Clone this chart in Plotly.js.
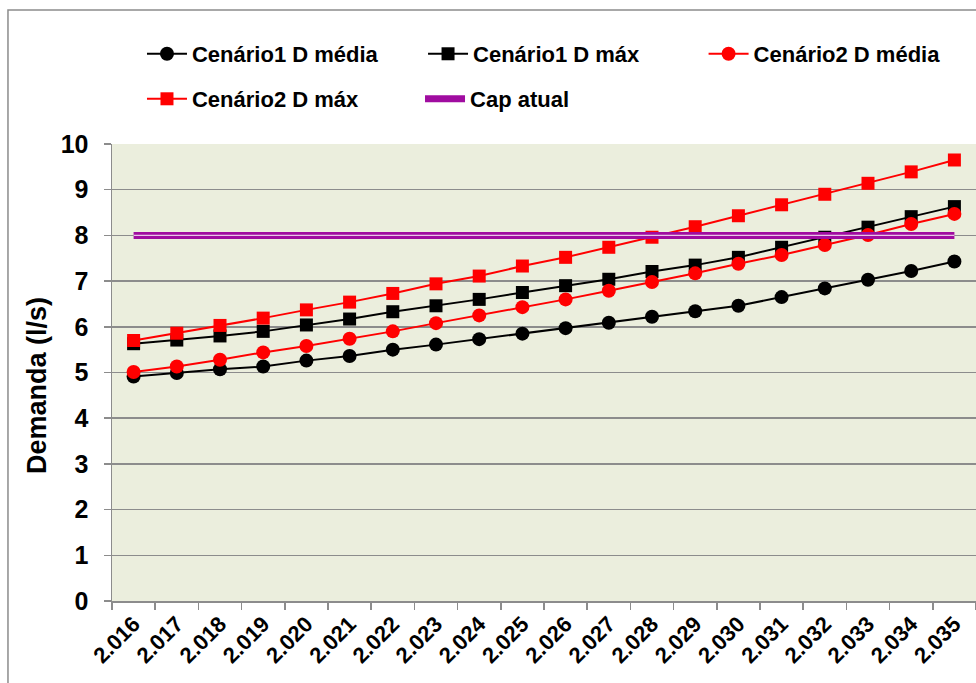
<!DOCTYPE html>
<html>
<head>
<meta charset="utf-8">
<script src="https://cdn.plot.ly/plotly-3.0.1.min.js"></script>
<style>html,body{margin:0;padding:0;background:#fff;}#chart{width:976px;height:683px;}</style>
</head>
<body>
<div id="chart"></div>
<script>
const years = ["2.016","2.017","2.018","2.019","2.020","2.021","2.022","2.023","2.024","2.025","2.026","2.027","2.028","2.029","2.030","2.031","2.032","2.033","2.034","2.035"];
const c1Media = [4.91,4.99,5.07,5.13,5.26,5.36,5.50,5.61,5.73,5.85,5.97,6.09,6.22,6.34,6.46,6.65,6.84,7.03,7.22,7.43];
const c1Max   = [5.63,5.71,5.80,5.90,6.04,6.17,6.33,6.46,6.60,6.75,6.90,7.04,7.21,7.35,7.52,7.74,7.96,8.18,8.41,8.63];
const c2Media = [5.01,5.13,5.28,5.44,5.58,5.74,5.90,6.08,6.25,6.43,6.60,6.79,6.98,7.17,7.38,7.57,7.79,8.01,8.25,8.47];
const c2Max   = [5.70,5.86,6.03,6.19,6.37,6.54,6.73,6.94,7.11,7.33,7.52,7.74,7.96,8.19,8.43,8.67,8.90,9.14,9.39,9.65];
const capAtual = [8,8,8,8,8,8,8,8,8,8,8,8,8,8,8,8,8,8,8,8];
const yTicks = [0,1,2,3,4,5,6,7,8,9,10];
const yTitle = "Demanda (l/s)";

const FONT = "'Liberation Sans', Arial, sans-serif";

const traces = [
  {x: years, y: c1Media, name: "Cenário1 D média", type: "scatter", mode: "lines+markers", legend: "legend",
   line: {color: "#000000", width: 2}, marker: {symbol: "circle", size: 14, color: "#000000"}},
  {x: years, y: c1Max, name: "Cenário1 D máx", type: "scatter", mode: "lines+markers", legend: "legend2",
   line: {color: "#000000", width: 2}, marker: {symbol: "square", size: 13, color: "#000000"}},
  {x: years, y: c2Media, name: "Cenário2 D média", type: "scatter", mode: "lines+markers", legend: "legend3",
   line: {color: "#ff0000", width: 2}, marker: {symbol: "circle", size: 14, color: "#ff0000"}},
  {x: years, y: c2Max, name: "Cenário2 D máx", type: "scatter", mode: "lines+markers", legend: "legend4",
   line: {color: "#ff0000", width: 2}, marker: {symbol: "square", size: 13, color: "#ff0000"}},
  {x: years, y: capAtual, name: "Cap atual", type: "scatter", mode: "lines", legend: "legend5",
   line: {color: "#a00ca0", width: 7}},
  {x: years, y: capAtual, name: "Cap atual", type: "scatter", mode: "lines", showlegend: false,
   line: {color: "#e8c4e8", width: 1.2}, hoverinfo: "skip"}
];

const legendFont = {family: FONT, size: 22, color: "#000000", weight: "bold"};
function leg(x, y) {
  return {orientation: "h", xanchor: "left", yanchor: "middle", x: x, y: y,
          font: legendFont, itemwidth: 40, bgcolor: "rgba(0,0,0,0)", borderwidth: 0};
}

const layout = {
  width: 976, height: 683,
  margin: {l: 112, r: 0, t: 144, b: 82, pad: 0},
  paper_bgcolor: "#ffffff",
  plot_bgcolor: "#ebeedd",
  font: {family: FONT, color: "#000000", weight: "bold"},
  showlegend: true,
  legend:  leg(0.0347, 1.197),
  legend2: leg(0.3600, 1.197),
  legend3: leg(0.6847, 1.197),
  legend4: leg(0.0347, 1.0985),
  legend5: leg(0.3565, 1.0985),
  xaxis: {
    type: "category", tickangle: -45, tickson: "boundaries",
    ticks: "outside", ticklen: 7, tickcolor: "#8c8c8c", tickwidth: 1.5,
    showline: true, linecolor: "#8c8c8c", linewidth: 1.5,
    showgrid: false, zeroline: false,
    tickfont: {family: FONT, size: 22, color: "#000000", weight: "bold"},
    range: [-0.5, 19.5]
  },
  yaxis: {
    range: [0, 10], tickvals: yTicks, ticktext: yTicks.map(String),
    ticks: "outside", ticklen: 7, tickcolor: "#8c8c8c", tickwidth: 1.5,
    showline: true, linecolor: "#8c8c8c", linewidth: 1.5,
    showgrid: true, gridcolor: "#8c8c8c", gridwidth: 1.5, zeroline: false,
    tickfont: {family: FONT, size: 25, color: "#000000", weight: "bold"},
    ticklabelstandoff: 10
  },
  annotations: [
    {text: yTitle, xref: "paper", yref: "paper", x: -0.0868, y: 0.4705,
     xanchor: "center", yanchor: "middle", textangle: -90, showarrow: false,
     font: {family: FONT, size: 27, color: "#000000", weight: "bold"}}
  ],
  shapes: [
    {type: "rect", xref: "paper", yref: "paper", x0: -0.1204, x1: 1.05, y0: -0.3, y1: 1.2932,
     line: {color: "#8c8c8c", width: 1.5}, fillcolor: "rgba(0,0,0,0)", layer: "below"}
  ]
};

Plotly.newPlot("chart", traces, layout, {displayModeBar: false, staticPlot: true});
</script>
</body>
</html>
